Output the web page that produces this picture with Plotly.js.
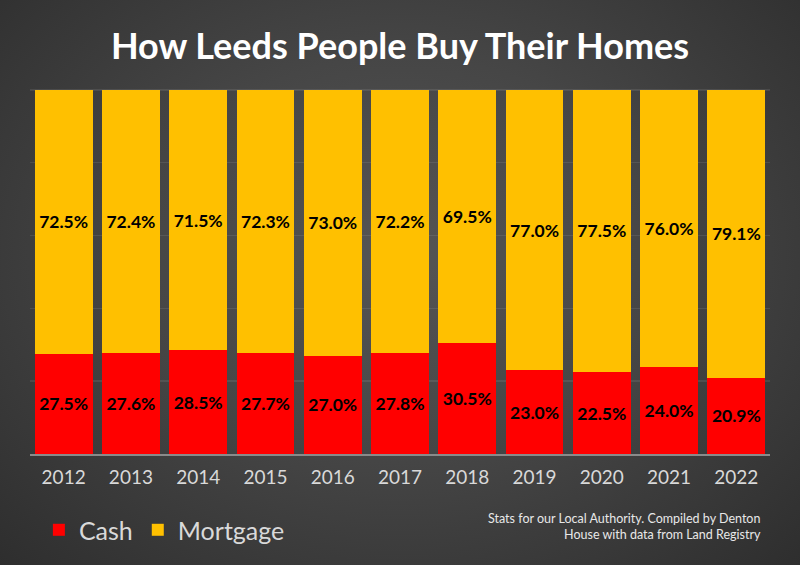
<!DOCTYPE html>
<html>
<head>
<meta charset="utf-8">
<script src="https://cdn.plot.ly/plotly-3.0.1.min.js"></script>
<style>
  html, body { margin: 0; padding: 0; }
  #chart {
    width: 800px; height: 565px;
    background: radial-gradient(ellipse at 50% 45%, #555555 0%, #464646 45%, #2e2e2e 100%);
  }
</style>
</head>
<body>
<div id="chart"></div>
<script>
const years = ['2012','2013','2014','2015','2016','2017','2018','2019','2020','2021','2022'];
const cash = [27.5, 27.6, 28.5, 27.7, 27.0, 27.8, 30.5, 23.0, 22.5, 24.0, 20.9];
const mortgage = [72.5, 72.4, 71.5, 72.3, 73.0, 72.2, 69.5, 77.0, 77.5, 76.0, 79.1];

const FONT = 'Lato, "Open Sans", sans-serif';
const labelFont = {family: FONT, size: 17.5, color: '#000000', weight: 'bold'};

const traces = [
  {
    type: 'bar', name: 'Cash', x: years, y: cash,
    marker: {color: '#FF0000'},
    texttemplate: '%{y:.1f}%', textposition: 'inside', insidetextanchor: 'middle',
    textangle: 0, constraintext: 'none', textfont: labelFont, hoverinfo: 'skip'
  },
  {
    type: 'bar', name: 'Mortgage', x: years, y: mortgage,
    marker: {color: '#FFC000'},
    texttemplate: '%{y:.1f}%', textposition: 'inside', insidetextanchor: 'middle',
    textangle: 0, constraintext: 'none', textfont: labelFont, hoverinfo: 'skip'
  }
];

const layout = {
  width: 800, height: 565,
  paper_bgcolor: 'rgba(0,0,0,0)', plot_bgcolor: 'rgba(0,0,0,0)',
  barmode: 'stack', bargap: 0.14,
  margin: {l: 30, r: 30, t: 17, b: 108, pad: 0},
  font: {family: FONT, color: '#d9d9d9'},
  title: {
    text: '<b>How Leeds People Buy Their Homes</b>',
    font: {family: FONT, size: 36, color: '#ffffff'},
    x: 0.5, xanchor: 'center', y: 0.917, yanchor: 'middle', yref: 'container'
  },
  xaxis: {
    type: 'category', showgrid: false, zeroline: false,
    showline: true, linecolor: '#8a8a8a', linewidth: 1.5,
    ticks: '', tickfont: {family: FONT, size: 19, color: '#d9d9d9'},
    ticklabelstandoff: 6
  },
  yaxis: {
    range: [0, 120], dtick: 20, showticklabels: false, ticks: '',
    showgrid: true, gridcolor: 'rgba(255,255,255,0.09)', gridwidth: 1.5,
    zeroline: false, showline: false
  },
  showlegend: true,
  legend: {
    orientation: 'h', x: 0.012, xanchor: 'left', y: -0.174, yanchor: 'middle',
    font: {family: FONT, size: 25, color: '#d9d9d9'},
    bgcolor: 'rgba(0,0,0,0)', traceorder: 'normal', itemwidth: 30
  },
  annotations: [{
    text: 'Stats for our Local Authority. Compiled by Denton<br>House with data from Land Registry',
    xref: 'paper', yref: 'paper', x: 0.99, y: -0.165, xanchor: 'right', yanchor: 'middle',
    align: 'right', showarrow: false,
    font: {family: FONT, size: 12.5, color: '#e8e8e8'}
  }]
};

Plotly.newPlot('chart', traces, layout, {displayModeBar: false, staticPlot: true});
</script>
</body>
</html>
